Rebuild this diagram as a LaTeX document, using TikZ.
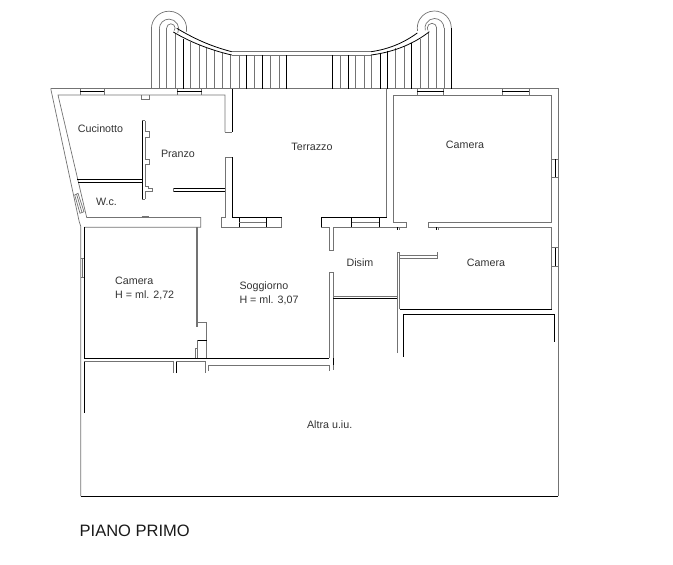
\documentclass[tikz,border=0pt]{standalone}
\usepackage{fontspec}
\setmainfont{Liberation Sans}
\tikzset{
wall/.style={draw=black!55, line width=0.7pt},
darkwall/.style={draw=black, line width=0.8pt},
roomlabel/.style={inner sep=0pt, text=black!80, font=\fontsize{10.7}{12}\selectfont},
titlelabel/.style={inner sep=0pt, anchor=west, text=black!90, font=\fontsize{16.5}{18}\selectfont}
}
\begin{document}
\begin{tikzpicture}[x=1pt, y=-1pt]
\useasboundingbox (0,0) rectangle (673,565);
\draw [wall] (50.7,88.5) -- (558.3,88.5) -- (558.3,496);
\draw [darkwall] (80.7,496) -- (558.3,496);
\draw [wall] (50.7,88.5) -- (79.3,222) -- (80.7,226) -- (80.7,496);
\draw [wall] (225,132) -- (225,95) -- (58,95) -- (86.7,217.5) -- (200.7,217.5) -- (200.7,227.3) -- (84.3,227.3);
\draw [wall] (225,132) -- (232,132);
\draw [darkwall] (232,88.5) -- (232,132);
\draw [wall] (225,157) -- (232,157);
\draw [wall] (225,157) -- (225,217.3) -- (221.7,217.3) -- (221.7,227.3) -- (281.7,227.3) -- (281.7,217.3);
\draw [darkwall] (232,157) -- (232,217.3) -- (281.7,217.3);
\draw [darkwall] (239.3,217.3) -- (239.3,227.3);
\draw [wall] (239.3,222.3) -- (266.7,222.3);
\draw [darkwall] (266.7,217.3) -- (266.7,227.3);
\draw [darkwall] (84.3,227.3) -- (84.3,358) -- (329.3,358);
\draw [wall] (196,227.3) -- (196,326) -- (197.3,326) -- (197.3,227.3);
\draw [wall] (197.3,326) -- (197.3,322.3) -- (206.7,322.3) -- (206.7,358);
\draw [wall] (195.5,348) -- (195.5,358);
\draw [wall] (197.3,340) -- (197.3,358);
\draw [wall] (195.5,348) -- (197.3,348);
\draw [darkwall] (197.5,340.5) -- (206.7,340.5);
\draw [wall] (84.3,361.7) -- (173,361.7) -- (173,373);
\draw [darkwall] (176,373) -- (176,361.7);
\draw [wall] (176,361.7) -- (205.7,361.7) -- (205.7,373);
\draw [wall] (208,371) -- (208,365) -- (329.3,365) -- (329.3,371);
\draw [darkwall] (84.3,361.7) -- (84.3,412.7);
\draw [wall] (329.3,358) -- (329.3,272) -- (333.3,272) -- (333.3,370);
\draw [darkwall] (333.3,298.7) -- (397.7,298.7);
\draw [wall] (333.3,296) -- (397.7,296);
\draw [darkwall] (333,358) -- (333,365);
\draw [wall] (386.7,88.5) -- (386.7,217.3);
\draw [darkwall] (321.3,217.3) -- (386.7,217.3);
\draw [darkwall] (321.3,217.3) -- (321.3,227.3);
\draw [wall] (321.3,227.3) -- (329.3,227.3) -- (329.3,250.7) -- (333.3,250.7) -- (333.3,227.3) -- (406.7,227.3) -- (406.7,222.7) -- (393.3,222.7) -- (393.3,95) -- (551.7,95) -- (551.7,222.7) -- (428,222.7) -- (428,227.3) -- (551.7,227.3) -- (551.7,309.3);
\draw [darkwall] (351.7,217.3) -- (351.7,227.3);
\draw [wall] (351.7,222.7) -- (379.3,222.7);
\draw [darkwall] (379.3,217.3) -- (379.3,227.3);
\draw [darkwall] (397.3,227.3) -- (397.3,230);
\draw [wall] (399.3,227.3) -- (399.3,230);
\draw [darkwall] (436,227.3) -- (436,230);
\draw [wall] (438.3,227.3) -- (438.3,230);
\draw [wall] (397.7,353) -- (397.7,252) -- (399.7,252) -- (399.7,309.3);
\draw [wall] (399.7,255) -- (437.7,255) -- (437.7,251.7);
\draw [wall] (399.7,258.7) -- (437.7,258.7) -- (437.7,255);
\draw [darkwall] (399.7,309.3) -- (551.7,309.3);
\draw [darkwall] (403.3,356.7) -- (403.3,314.3) -- (554.7,314.3) -- (554.7,341.7);
\draw [darkwall] (173.3,188.3) -- (225,188.3);
\draw [darkwall] (173.3,191.7) -- (225,191.7);
\draw [wall] (173.3,188.3) -- (173.3,191.7);
\draw [darkwall] (77.3,179) -- (142.3,179);
\draw [darkwall] (78,182.3) -- (142.3,182.3);
\draw [darkwall] (142.3,120.7) -- (142.3,199.3);
\draw [wall] (145,120.7) -- (145,131) -- (149,131) -- (149,137.3) -- (145,137.3) -- (145,159) -- (149,159) -- (149,164.3) -- (145,164.3) -- (145,186.7) -- (148,186.7) -- (148,188.7) -- (152.3,188.7) -- (152.3,191.7) -- (145,191.7) -- (145,199.3);
\draw [wall] (142.3,120.7) -- (145,120.7);
\draw [wall] (142.3,199.3) -- (145,199.3);
\draw [wall] (141.7,95) -- (141.7,99) -- (149,99) -- (149,95);
\draw [wall] (141.7,216.8) -- (149,216.8);
\foreach \xa/\xb in {80/104.3, 177.3/201.7, 417.3/443.7, 502.3/529.3}
{
\draw [wall] (\xa,88.5) -- (\xa,95);
\draw [wall] (\xb,88.5) -- (\xb,95);
\draw [darkwall] (\xa,91) -- (\xb,91);
}
\draw [wall] (551.7,159) -- (558.3,159);
\draw [wall] (551.7,177) -- (558.3,177);
\draw [darkwall] (555,159) -- (555,177);
\draw [wall] (551.7,247.7) -- (558.3,247.7);
\draw [wall] (551.7,266) -- (558.3,266);
\draw [darkwall] (555.5,247.7) -- (555.5,266);
\draw [wall] (80.7,258) -- (84.3,258);
\draw [wall] (80.7,277) -- (84.3,277);
\draw [wall] (82.7,258) -- (82.7,277);
\draw [wall] (74.7,195) -- (78,193.3) -- (84,211.7) -- (80,213.3) -- cycle;
\draw [wall] (76.5,194) -- (82,212.5);
\draw [wall] (231.7,51.7) -- (371,51.7);
\draw [wall] (231.7,55) -- (371,55);
\foreach \x/\y in {151.4/28.8, 159.3/28.8, 166.7/28, 175/33, 190.7/41.7, 199.3/45, 206.7/47.7, 214.3/50, 222.7/52.7, 230.7/55, 239/55, 254.3/55, 270.7/55, 279/55, 340.7/55, 355.7/55, 364.3/55, 371/55, 395.7/48.3, 404/46, 420/39.3, 428.7/32.7, 436.7/28, 444/28}
{
\draw [wall] (\x,\y) -- (\x,88.5);
}
\foreach \x/\y in {183.3/39, 246.7/55, 262.3/55, 286.7/55, 332.5/55, 348.3/55, 380/52.7, 387.3/50.7, 411.3/43.3, 451.3/28}
{
\draw [darkwall] (\x,\y) -- (\x,88.5);
}
\draw [wall] (151.4,28.8) arc [start angle=180, end angle=370, radius=17.6];
\draw [wall] (159.3,28.8) arc [start angle=180, end angle=385, radius=9.7];
\draw [wall] (166.7,28) arc [start angle=180, end angle=400, radius=4.2];
\draw [darkwall] (173.3,32) .. controls (190,42) and (210,50) .. (231.7,55);
\draw [darkwall] (176.7,28.3) .. controls (195,39) and (210,46) .. (231.7,51.7);
\draw [wall] (451.3,28) arc [start angle=360, end angle=170, radius=17];
\draw [wall] (444,28) arc [start angle=360, end angle=165, radius=9.5];
\draw [wall] (436.7,28) arc [start angle=360, end angle=150, radius=4.7];
\draw [darkwall] (371,55) .. controls (395,52) and (415,43) .. (429.3,31.7);
\draw [darkwall] (371,51.7) .. controls (390,49) and (405,42) .. (417.3,33);
\node [roomlabel] (cucinotto) at (100.5,129) {Cucinotto};
\node [roomlabel] (pranzo) at (178,154) {Pranzo};
\node [roomlabel] (terrazzo) at (312,147) {Terrazzo};
\node [roomlabel] (wc) at (106.5,201.7) {W.c.};
\node [roomlabel] (cameranord) at (465,145.3) {Camera};
\node [roomlabel, anchor=west] (cameraovest) at (115,281) {Camera};
\node [roomlabel, anchor=west] (altezzacamera) at (115,295.3) {H = ml. 2,72};
\node [roomlabel, anchor=west] (soggiorno) at (239.3,286.7) {Soggiorno};
\node [roomlabel, anchor=west] (altezzasoggiorno) at (239.3,300) {H = ml. 3,07};
\node [roomlabel] (disim) at (360,262.7) {Disim};
\node [roomlabel] (camerasud) at (486,262.7) {Camera};
\node [roomlabel] (altra) at (329.7,425) {Altra u.iu.};
\node [titlelabel] (titolo) at (79.5,530.7) {PIANO PRIMO};
\end{tikzpicture}
\end{document}
